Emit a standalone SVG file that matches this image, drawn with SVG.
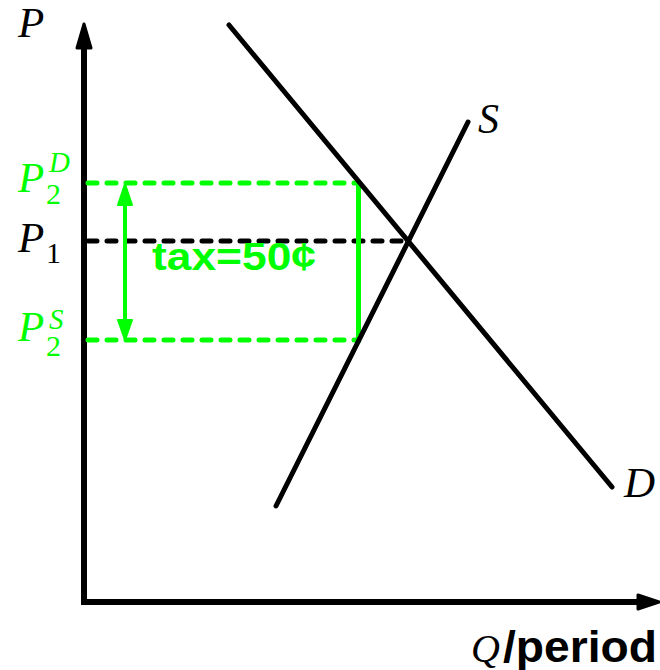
<svg xmlns="http://www.w3.org/2000/svg" width="660" height="670" viewBox="0 0 660 670">
<style>
.ax{stroke:#000;stroke-width:6;fill:none}
.ah{fill:#000;stroke:#000;stroke-width:3;stroke-linejoin:round}
.crv{stroke:#000;stroke-width:5;stroke-linecap:round;fill:none}
.gd{stroke:#00ff00;stroke-width:5;stroke-dasharray:9 10;stroke-linecap:round;fill:none}
.kd{stroke:#000;stroke-width:5;stroke-dasharray:9 10;stroke-linecap:round;fill:none}
.gs{stroke:#00ff00;stroke-width:5;fill:none}
.ga{stroke:#00ff00;stroke-width:4;fill:none}
.gh{fill:#00ff00;stroke:#00ff00;stroke-width:2;stroke-linejoin:round}
.it{font-family:"Liberation Serif","Times New Roman",serif;font-style:italic}
.rm{font-family:"Liberation Serif","Times New Roman",serif}
.sb{font-family:"Liberation Sans",Arial,sans-serif;font-weight:bold}
</style>
<g id="axes">
<line class="ax" x1="84" y1="46" x2="84" y2="605"/>
<polygon class="ah" points="84,24 77,48 91,48"/>
<line class="ax" x1="81" y1="602" x2="640" y2="602"/>
<polygon class="ah" points="659,602 638,595 638,609"/>
</g>
<g id="connectors">
<line class="kd" x1="88" y1="241" x2="405" y2="241"/>
<line class="gd" x1="88" y1="183" x2="356" y2="183"/>
<line class="gd" x1="88" y1="340" x2="356" y2="340"/>
<line class="gs" x1="358.5" y1="181" x2="358.5" y2="342.5"/>
<line class="ga" x1="125" y1="200" x2="125" y2="324"/>
<polygon class="gh" points="125,184 118,205 132,205"/>
<polygon class="gh" points="125,340 118,320 132,320"/>
</g>
<g id="demand">
<line class="crv" x1="229" y1="25" x2="612" y2="487"/>
<text class="it" x="624" y="497" font-size="43">D</text>
</g>
<g id="supply">
<line class="crv" x1="276" y1="506" x2="468" y2="122"/>
<text class="it" x="478" y="133" font-size="42">S</text>
</g>
<g id="labels">
<text class="it" x="18" y="37" font-size="43">P</text>
<text class="it" x="18" y="192" fill="#00ff00" font-size="43">P</text>
<text class="it" x="49" y="172" fill="#00ff00" font-size="29">D</text>
<text class="rm" x="46" y="204" fill="#00ff00" font-size="30">2</text>
<text class="it" x="18" y="252" font-size="43">P</text>
<text class="rm" x="46" y="263" font-size="30">1</text>
<text class="it" x="18" y="341" fill="#00ff00" font-size="43">P</text>
<text class="it" x="49" y="329" fill="#00ff00" font-size="29">S</text>
<text class="rm" x="46" y="356" fill="#00ff00" font-size="30">2</text>
<text class="sb" x="152" y="270" fill="#00ff00" font-size="38" textLength="164" lengthAdjust="spacingAndGlyphs">tax=50¢</text>
<text class="it" x="471" y="662" font-size="40">Q</text>
<text class="sb" x="503" y="662" font-size="44" textLength="154" lengthAdjust="spacingAndGlyphs">/period</text>
</g>
</svg>
